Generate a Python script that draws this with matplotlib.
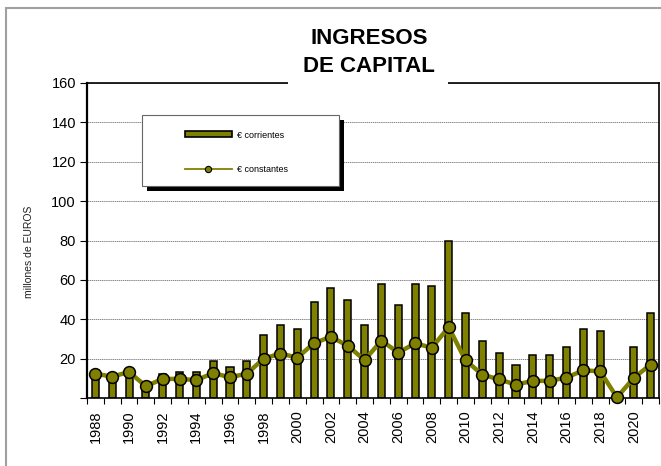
import matplotlib
matplotlib.use('Agg')
import matplotlib.pyplot as plt
from matplotlib.patches import Rectangle
from matplotlib.lines import Line2D

plt.rcParams['font.family'] = ['Liberation Sans', 'DejaVu Sans']

# data
years = list(range(1988, 2022))
corrientes = [13, 11, 13, 5, 12, 13, 13, 19, 16, 19,
              32, 37, 35, 49, 56, 50, 37, 58, 47, 58,
              57, 80, 43, 29, 23, 17, 22, 22, 26, 35,
              34, 0, 26, 43]
constantes = [12.3, 10.9, 13.2, 6.0, 9.7, 9.7, 9.1, 12.6, 10.6, 12.3,
              20.0, 22.6, 20.5, 27.9, 31.1, 26.5, 19.3, 29.1, 23.1, 27.7,
              25.6, 36.0, 19.1, 11.9, 9.4, 6.8, 8.7, 8.7, 10.4, 14.0,
              13.6, 0.3, 10.2, 17.0]
yticks = [0, 20, 40, 60, 80, 100, 120, 140, 160]
title_lines = ['INGRESOS', 'DE CAPITAL']

W, H = 661, 466
OLIVE = '#808000'


def px(x, y):
    """pixel coords (top-left origin) -> figure fraction"""
    return x / W, 1 - y / H


fig = plt.figure(figsize=(6.61, 4.66), dpi=100)
fig.patch.set_facecolor('white')
ax = fig.add_axes([87 / W, 1 - 398 / H, (659 - 87) / W, (398 - 83) / H])

pos = list(range(len(years)))
ax.bar(pos, corrientes, width=0.42, color=OLIVE, edgecolor='black',
       linewidth=1.1, zorder=2)
ax.plot(pos, constantes, color=OLIVE, lw=3.2, marker='o', markersize=8.5,
        markerfacecolor=OLIVE, markeredgecolor='black', markeredgewidth=1.1,
        zorder=3, clip_on=False)

ax.set_xlim(-0.5, len(years) - 0.5)
ax.set_ylim(0, 160)
ax.set_yticks(yticks)
ax.set_yticklabels([''] + [str(v) for v in yticks[1:]], fontsize=10.5)
ax.yaxis.grid(True, color='#555555', linestyle=(0, (2, 1)), lw=0.5, zorder=1)
ax.set_axisbelow(True)

# labels for even years, ticks at category boundaries
ax.set_xticks(pos[::2])
ax.set_xticklabels([str(y) for y in years[::2]], rotation=90, fontsize=10.5)
ax.tick_params(axis='x', which='major', length=0, pad=9)
ax.set_xticks([p - 0.5 for p in pos] + [len(years) - 0.5], minor=True)
ax.tick_params(axis='x', which='minor', length=4, width=0.8, direction='out')
ax.tick_params(axis='y', length=5, width=0.8, direction='out', pad=3)

for s in ax.spines.values():
    s.set_linewidth(1.2)
    s.set_color('black')
ax.spines['left'].set_linewidth(1.6)

# outer frame of the picture
fig.patches.append(Rectangle(px(6, 470), 700 / W, 462 / H, transform=fig.transFigure,
                             fill=False, edgecolor='#a0a0a0', lw=1.5, zorder=0))

# title with white gap over the top spine
fig.patches.append(Rectangle(px(288, 86), 160 / W, 6 / H, transform=fig.transFigure,
                             facecolor='white', edgecolor='none', zorder=5))
fig.text(*px(369, 39), title_lines[0], fontsize=16, fontweight='bold',
         ha='center', va='center', zorder=6)
fig.text(*px(369, 67), title_lines[1], fontsize=16, fontweight='bold',
         ha='center', va='center', zorder=6)

fig.text(*px(29, 252), 'millones de EUROS', fontsize=7.5, rotation=90,
         ha='center', va='center', color='#222222')

# legend box with shadow
fig.patches.append(Rectangle(px(147, 191), 197 / W, 71 / H, transform=fig.transFigure,
                             facecolor='black', edgecolor='none', zorder=6))
fig.patches.append(Rectangle(px(142, 186), 197 / W, 71 / H, transform=fig.transFigure,
                             facecolor='white', edgecolor='#666666', lw=0.8, zorder=7))
fig.patches.append(Rectangle(px(185, 137), 47 / W, 6 / H, transform=fig.transFigure,
                             facecolor=OLIVE, edgecolor='black', lw=1.2, zorder=8))
x0, y0 = px(185, 169)
x1, _ = px(232, 169)
fig.lines.append(Line2D([x0, x1], [y0, y0], transform=fig.transFigure, color=OLIVE,
                        lw=1.3, zorder=8))
fig.lines.append(Line2D([(x0 + x1) / 2], [y0], transform=fig.transFigure, marker='o',
                        markersize=4.5, markerfacecolor=OLIVE, markeredgecolor='black',
                        markeredgewidth=0.8, zorder=9))
fig.text(*px(237, 135), '€ corrientes', fontsize=6.5, va='center', zorder=9)
fig.text(*px(237, 170), '€ constantes', fontsize=6.5, va='center', zorder=9)

fig.savefig('out.png', dpi=100, facecolor='white')
